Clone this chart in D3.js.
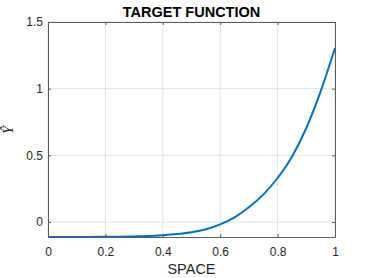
<!DOCTYPE html>
<html>
<head>
<meta charset="utf-8">
<script src="https://cdn.jsdelivr.net/npm/d3@7"></script>
<style>
  body { margin: 0; background: #fff; }
  svg { display: block; font-family: "Liberation Sans", Arial, sans-serif; }
</style>
</head>
<body>
<div id="chart"></div>
<script>
// values
const xs = [0, 0.05, 0.1, 0.15, 0.2, 0.25, 0.3, 0.35, 0.4, 0.45, 0.5, 0.55, 0.6, 0.65, 0.7, 0.75, 0.8, 0.85, 0.9, 0.95, 1];
const ys = [-0.112, -0.112, -0.112, -0.112, -0.111, -0.110, -0.108, -0.105, -0.099, -0.090, -0.077, -0.055, -0.018, 0.035, 0.11, 0.205, 0.33, 0.49, 0.705, 0.98, 1.305];
const xTicks = [0, 0.2, 0.4, 0.6, 0.8, 1];
const yTicks = [0, 0.5, 1, 1.5];

const W = 371, H = 278;
const m = { left: 48, right: 36, top: 22, bottom: 41 };

const svg = d3.select("#chart").append("svg")
  .attr("width", W).attr("height", H);

const x = d3.scaleLinear().domain([0, 1]).range([m.left, W - m.right]);
const y = d3.scaleLinear().domain([-0.1125, 1.5]).range([H - m.bottom, m.top]);

// grid
svg.append("g").selectAll("line").data(xTicks).join("line")
  .attr("x1", d => x(d)).attr("x2", d => x(d))
  .attr("y1", y.range()[1]).attr("y2", y.range()[0])
  .attr("stroke", "#e3e3e3");
svg.append("g").selectAll("line").data(yTicks).join("line")
  .attr("x1", x.range()[0]).attr("x2", x.range()[1])
  .attr("y1", d => y(d)).attr("y2", d => y(d))
  .attr("stroke", "#e3e3e3");

// curve
const data = xs.map((v, i) => [v, ys[i]]);
svg.append("path").datum(data)
  .attr("fill", "none")
  .attr("stroke", "#0072BD")
  .attr("stroke-width", 2)
  .attr("d", d3.line().x(d => x(d[0])).y(d => y(d[1])).curve(d3.curveMonotoneX));

// axes, ticks inward on all sides
const tl = 3;
const styleAxis = g => {
  g.select(".domain").attr("stroke", "#5a5a5a");
  g.selectAll(".tick line").attr("stroke", "#5a5a5a");
  g.selectAll(".tick text").attr("fill", "#262626").style("font-size", "12px");
};
svg.append("g").attr("transform", `translate(0,${y.range()[0]})`)
  .call(d3.axisBottom(x).tickValues(xTicks).tickFormat(d3.format("")).tickSizeInner(-tl).tickSizeOuter(0).tickPadding(10))
  .call(styleAxis);
svg.append("g").attr("transform", `translate(0,${y.range()[1]})`)
  .call(d3.axisTop(x).tickValues(xTicks).tickFormat("").tickSizeInner(-tl).tickSizeOuter(0))
  .call(styleAxis);
svg.append("g").attr("transform", `translate(${x.range()[0]},0)`)
  .call(d3.axisLeft(y).tickValues(yTicks).tickFormat(d3.format("")).tickSizeInner(-tl).tickSizeOuter(0).tickPadding(5))
  .call(styleAxis);
svg.append("g").attr("transform", `translate(${x.range()[1]},0)`)
  .call(d3.axisRight(y).tickValues(yTicks).tickFormat("").tickSizeInner(-tl).tickSizeOuter(0))
  .call(styleAxis);

// title and labels
svg.append("text")
  .attr("x", (x.range()[0] + x.range()[1]) / 2).attr("y", 17)
  .attr("text-anchor", "middle")
  .style("font-size", "14.5px").style("font-weight", "bold")
  .attr("fill", "#000")
  .text("TARGET FUNCTION");

svg.append("text")
  .attr("x", (x.range()[0] + x.range()[1]) / 2).attr("y", 274)
  .attr("text-anchor", "middle")
  .style("font-size", "14.5px")
  .attr("fill", "#262626")
  .text("SPACE");

svg.append("text")
  .attr("transform", "translate(13,130) rotate(-90)")
  .attr("text-anchor", "middle")
  .style("font-family", "'Liberation Serif', serif")
  .style("font-style", "italic")
  .style("font-size", "15px")
  .attr("fill", "#262626")
  .text("Ŷ");
</script>
</body>
</html>
